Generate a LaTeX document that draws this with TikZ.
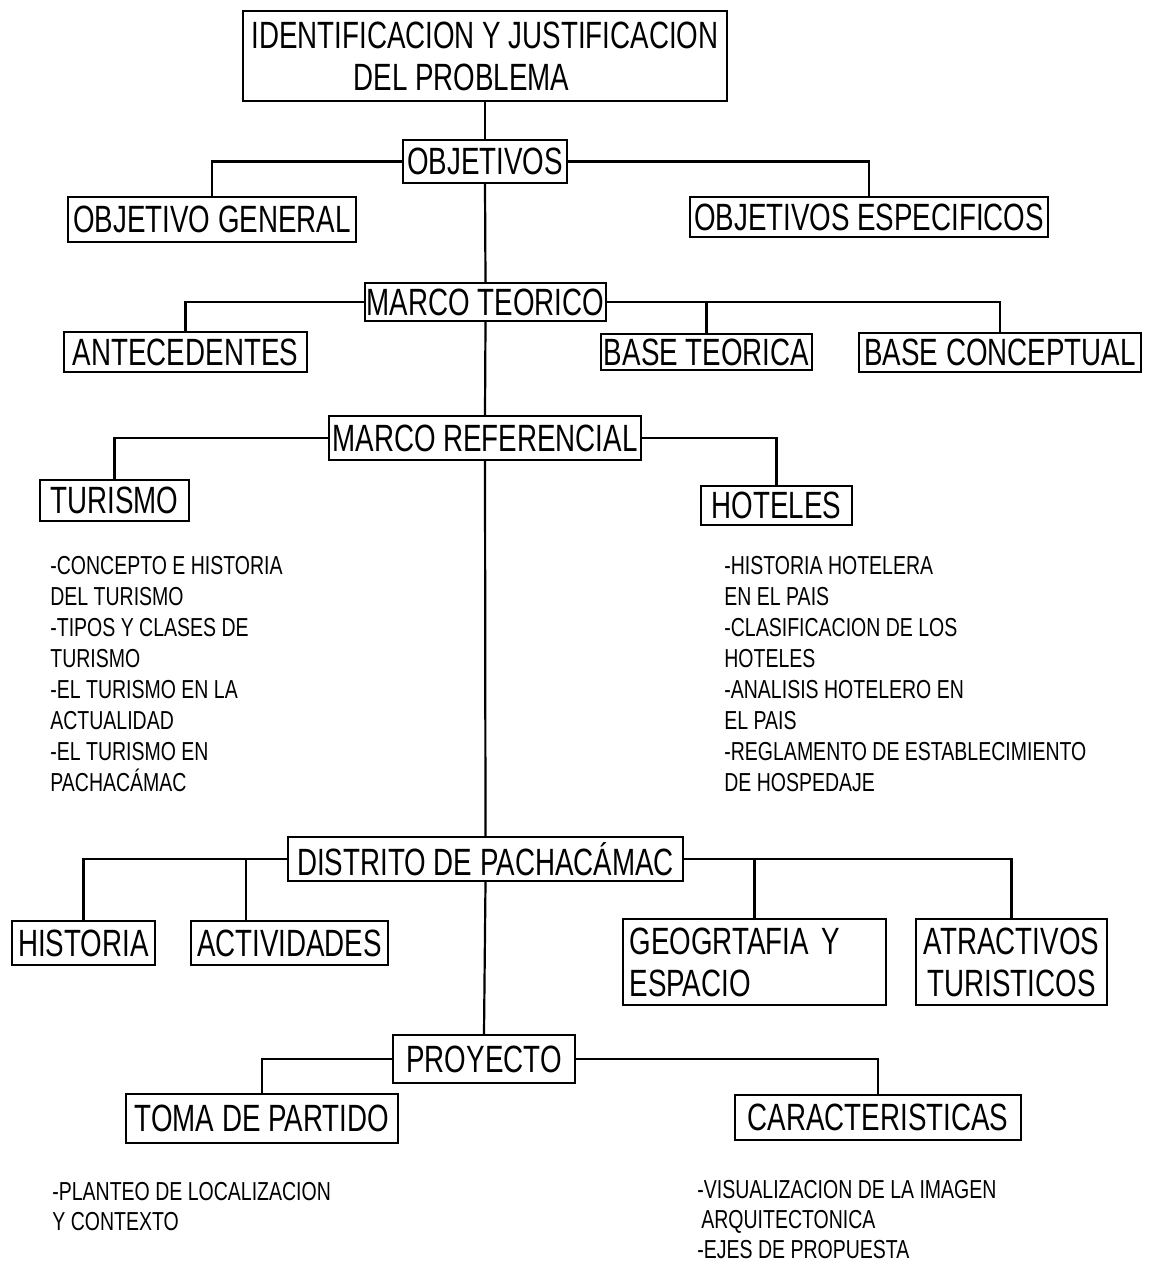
\documentclass[tikz,border=0pt]{standalone}
\usepackage{fontspec}
\usetikzlibrary{calc}
\newfontfamily\boxfont[FakeStretch=0.73]{Liberation Sans}
\newfontfamily\listfont[FakeStretch=0.75]{Liberation Sans}
\tikzset{
  box/.style={draw, line width=1.1pt, inner sep=0pt, align=center,
    font=\boxfont\fontsize{19}{21}\selectfont},
  link/.style={line width=1.1pt},
  listtxt/.style={inner sep=0pt, align=left, anchor=north west,
    font=\listfont\fontsize{13}{15.5}\selectfont}
}
\begin{document}
\begin{tikzpicture}[x=0.5pt,y=-0.5pt]
\useasboundingbox (0,0) rectangle (1154,1264);
% boxes
\node[box, minimum width=242pt, minimum height=45pt, align=left] (top) at (485,56)
  {IDENTIFICACION Y JUSTIFICACION\\\hspace*{51pt}DEL PROBLEMA};
\node[box, minimum width=82pt, minimum height=21.5pt] (obj) at (485,161.5) {OBJETIVOS};
\node[box, minimum width=144pt, minimum height=22.5pt] (og) at (212,219.5) {OBJETIVO GENERAL};
\node[box, minimum width=179pt, minimum height=20pt] (oe) at (869,217) {OBJETIVOS ESPECIFICOS};
\node[box, minimum width=120.5pt, minimum height=19pt] (mt) at (485.5,302) {MARCO TEORICO};
\node[box, minimum width=121.5pt, minimum height=20pt] (ant) at (185.5,352) {ANTECEDENTES};
\node[box, minimum width=105.5pt, minimum height=18pt] (bt) at (706.5,352) {BASE TEORICA};
\node[box, minimum width=141pt, minimum height=19.5pt] (bc) at (1000,352.5) {BASE CONCEPTUAL};
\node[box, minimum width=156pt, minimum height=22pt] (mr) at (485,438) {MARCO REFERENCIAL};
\node[box, minimum width=74.5pt, minimum height=20.5pt] (tur) at (114.5,500.5) {TURISMO};
\node[box, minimum width=75.5pt, minimum height=19.5pt] (hot) at (776.5,505.5) {HOTELES};
\node[box, minimum width=197.5pt, minimum height=22pt] (dp) at (485.5,859) {DISTRITO DE PACHACÁMAC};
\node[box, minimum width=71.5pt, minimum height=22pt] (his) at (83.5,943) {HISTORIA};
\node[box, minimum width=98.5pt, minimum height=22pt] (act) at (289.5,943) {ACTIVIDADES};
\node[box, minimum width=131.5pt, minimum height=43pt, align=left, text width=125pt] (geo) at (754.5,962) {GEOGRTAFIA Y\\ESPACIO};
\node[box, minimum width=95.5pt, minimum height=43pt] (atr) at (1011.5,962) {ATRACTIVOS\\TURISTICOS};
\node[box, minimum width=91pt, minimum height=24pt] (proy) at (484,1059) {PROYECTO};
\node[box, minimum width=136pt, minimum height=24.5pt] (toma) at (262,1118.5) {TOMA DE PARTIDO};
\node[box, minimum width=143pt, minimum height=22.5pt] (car) at (878,1117.5) {CARACTERISTICAS};
% lists
\node[listtxt] (tlist) at (50,556) {-CONCEPTO E HISTORIA\\DEL TURISMO\\-TIPOS Y CLASES DE\\TURISMO\\-EL TURISMO EN LA\\ACTUALIDAD\\-EL TURISMO EN\\PACHACÁMAC};
\node[listtxt] (hlist) at (724,556) {-HISTORIA HOTELERA\\EN EL PAIS\\-CLASIFICACION DE LOS\\HOTELES\\-ANALISIS HOTELERO EN\\EL PAIS\\-REGLAMENTO DE ESTABLECIMIENTO\\DE HOSPEDAJE};
\node[listtxt, font=\listfont\fontsize{13}{15}\selectfont] (plist) at (52,1182) {-PLANTEO DE LOCALIZACION\\Y CONTEXTO};
\node[listtxt, font=\listfont\fontsize{13}{15}\selectfont] (clist) at (697,1180) {-VISUALIZACION DE LA IMAGEN\\\hspace*{2pt}ARQUITECTONICA\\-EJES DE PROPUESTA};
% trunk
\draw[link] (top.south) -- (obj.north);
\draw[link] (obj.south) -- (mt.north);
\draw[link] (mt.south) -- (mr.north);
\draw[link] (mr.south) -- (dp.north);
\draw[link] (dp.south) -- (proy.north);
% branches
\draw[link] (obj.west) -| (og.north);
\draw[link] (obj.east) -| (oe.north);
\draw[link] (mt.west) -| (ant.north);
\draw[link] (mt.east) -| (bc.north);
\draw[link] (bt.north) -- (bt.north |- mt.east);
\draw[link] (mr.west) -| (tur.north);
\draw[link] (mr.east) -| (hot.north);
\draw[link] (dp.west) -| (his.north);
\coordinate (actn) at ($(act.north west)!0.28!(act.north east)$);
\draw[link] (actn) -- (actn |- dp.west);
\draw[link] (dp.east) -| (atr.north);
\draw[link] (geo.north) -- (geo.north |- dp.east);
\draw[link] (proy.west) -| (toma.north);
\draw[link] (proy.east) -| (car.north);
\end{tikzpicture}
\end{document}
